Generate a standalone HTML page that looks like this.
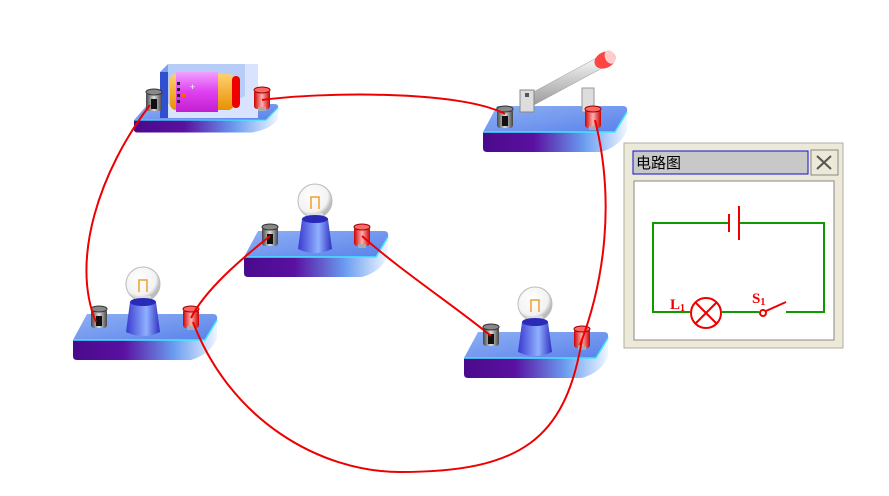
<!DOCTYPE html>
<html><head><meta charset="utf-8"><style>
html,body{margin:0;padding:0;background:#fff;}
svg{display:block;}
</style></head><body>
<svg width="889" height="496" viewBox="0 0 889 496" xmlns="http://www.w3.org/2000/svg">
<defs>
<linearGradient id="front" x1="0" x2="1" y1="0" y2="0">
<stop offset="0" stop-color="#4a0a8c"/><stop offset="0.35" stop-color="#5a10a0"/><stop offset="0.7" stop-color="#6a9cf0"/><stop offset="1" stop-color="#eef6ff"/></linearGradient>
<linearGradient id="top" x1="0" x2="1" y1="0" y2="1">
<stop offset="0" stop-color="#8eb0f4"/><stop offset="1" stop-color="#5a82ea"/></linearGradient>
<linearGradient id="sock" x1="0" x2="1"><stop offset="0" stop-color="#3a3ad0"/><stop offset="0.6" stop-color="#8fb0ff"/><stop offset="1" stop-color="#3030c0"/></linearGradient>
<linearGradient id="grayT" x1="0" x2="1"><stop offset="0" stop-color="#444"/><stop offset="0.5" stop-color="#ddd"/><stop offset="1" stop-color="#444"/></linearGradient>
<linearGradient id="redT" x1="0" x2="1"><stop offset="0" stop-color="#c00"/><stop offset="0.5" stop-color="#ffb0b0"/><stop offset="1" stop-color="#c00"/></linearGradient>
<radialGradient id="globe" cx="0.4" cy="0.35" r="0.6"><stop offset="0" stop-color="#fff"/><stop offset="0.8" stop-color="#f2f2f2"/><stop offset="1" stop-color="#bbb"/></radialGradient>
<linearGradient id="lever" x1="0" x2="0" y1="0" y2="1"><stop offset="0" stop-color="#fafafa"/><stop offset="1" stop-color="#999"/></linearGradient>
<linearGradient id="batt" x1="0" x2="0" y1="0" y2="1"><stop offset="0" stop-color="#f0a0ff"/><stop offset="0.5" stop-color="#e040f0"/><stop offset="1" stop-color="#c020d0"/></linearGradient>
<linearGradient id="orange" x1="0" x2="0" y1="0" y2="1"><stop offset="0" stop-color="#ffd070"/><stop offset="1" stop-color="#e89000"/></linearGradient>

<symbol id="base" overflow="visible">
<path d="M0,26 L14,0 L140,0 Q145,0 144,6 L132,26 Z" fill="url(#top)"/>
<path d="M0,26 L132,26 L144,6 L144,24 Q138,40 118,46 L4,46 Q0,46 0,42 Z" fill="url(#front)"/>
<path d="M0,26 L132,26 L144,6" fill="none" stroke="#40e8ff" stroke-width="1.5"/>
</symbol>
<symbol id="gt" overflow="visible">
<rect x="-8" y="-9" width="16" height="19" rx="3" fill="url(#grayT)"/>
<ellipse cx="0" cy="-9" rx="8" ry="3" fill="#888" stroke="#333"/>
<rect x="-3" y="-2" width="6" height="10" fill="#111"/>
</symbol>
<symbol id="rt" overflow="visible">
<rect x="-8" y="-9" width="16" height="19" rx="3" fill="url(#redT)"/>
<ellipse cx="0" cy="-9" rx="8" ry="3" fill="#f66" stroke="#900"/>
<rect x="-4" y="8" width="8" height="4" fill="#aaa"/>
</symbol>
<symbol id="lamp" overflow="visible">
<circle cx="0" cy="-18" r="17" fill="url(#globe)" stroke="#bbb"/>
<path d="M-4,-10 L-4,-22 L4,-22 L4,-10" fill="none" stroke="#f0a030" stroke-width="1.5"/>
<rect x="-8" y="-6" width="16" height="8" fill="#ddd"/>
<path d="M-13,0 L13,0 L17,30 Q0,38 -17,30 Z" fill="url(#sock)"/>
<ellipse cx="0" cy="0" rx="13" ry="4" fill="#2a2ab8"/>
</symbol>
</defs>

<!-- bases -->
<g transform="translate(134,104) scale(1,0.62)"><use href="#base" x="0" y="0"/></g>
<use href="#base" x="483" y="106"/>
<use href="#base" x="244" y="231"/>
<use href="#base" x="73" y="314"/>
<use href="#base" x="464" y="332"/>

<!-- battery -->
<path d="M160,72 L168,64 L168,118 L160,118 Z" fill="#7aa0f0"/>
<rect x="160" y="72" width="8" height="46" fill="#3050d0"/>
<path d="M168,64 L258,64 L258,118 L168,118 Z" fill="#d8e4ff"/>
<path d="M168,64 L245,64 L245,96 Q205,118 168,104 Z" fill="#b8ccf8"/>
<rect x="170" y="74" width="64" height="36" rx="6" fill="url(#orange)"/>
<rect x="176" y="72" width="42" height="40" fill="url(#batt)"/>
<rect x="232" y="76" width="8" height="32" rx="4" fill="#e00"/>
<text x="190" y="90" font-size="9" fill="#fff" font-family="Liberation Sans, sans-serif">+</text>
<g fill="#222"><rect x="177" y="82" width="3" height="3"/><rect x="177" y="88" width="3" height="3"/><rect x="177" y="94" width="3" height="3"/><rect x="182" y="94" width="3" height="3" fill="#f60"/><rect x="177" y="100" width="3" height="3"/></g>
<use href="#gt" x="154" y="101"/>
<use href="#rt" x="262" y="99"/>

<!-- switch -->
<path d="M526,96 L600,56 L606,66 L532,106 Z" fill="url(#lever)" stroke="#999" stroke-width="0.5"/>
<rect x="520" y="90" width="14" height="22" fill="#ddd" stroke="#888"/>
<rect x="525" y="93" width="4" height="4" fill="#555"/>
<rect x="582" y="88" width="12" height="24" fill="#ddd" stroke="#999"/>
<ellipse cx="605" cy="60" rx="11" ry="8" fill="#f44" transform="rotate(-25 605 60)"/>
<ellipse cx="610" cy="57" rx="5" ry="7" fill="#fcc" transform="rotate(-25 610 57)"/>
<use href="#gt" x="505" y="118"/>
<use href="#rt" x="593" y="118"/>

<!-- lamps -->
<use href="#lamp" x="315" y="219"/>
<use href="#gt" x="270" y="236"/>
<use href="#rt" x="362" y="236"/>
<use href="#lamp" x="143" y="302"/>
<use href="#gt" x="99" y="318"/>
<use href="#rt" x="191" y="318"/>
<use href="#lamp" x="535" y="322"/>
<use href="#gt" x="491" y="336"/>
<use href="#rt" x="582" y="338"/>

<!-- wires -->
<g fill="none" stroke="#e00" stroke-width="2">
<path d="M262,100 C320,92 460,90 505,114"/>
<path d="M150,105 C100,170 70,260 96,322"/>
<path d="M595,120 C615,200 605,280 580,345"/>
<path d="M270,236 C240,260 205,290 191,318"/>
<path d="M362,236 C400,270 460,310 491,336"/>
<path d="M193,322 C230,420 320,472 400,472 C520,472 565,440 582,340"/>
</g>

<!-- panel -->
<rect x="624" y="143" width="219" height="205" fill="#ece9d8" stroke="#b0aea0"/>
<rect x="633" y="151" width="175" height="23" fill="#c8c8c8" stroke="#1010d0"/>
<text x="636" y="168" font-size="15" fill="#000" font-family="Liberation Sans, 'Noto Sans CJK SC', sans-serif">电路图</text>
<rect x="811" y="150" width="27" height="25" fill="#ece9d8" stroke="#888"/>
<path d="M817,156 L831,169 M831,156 L817,169" stroke="#555" stroke-width="2"/>
<rect x="634" y="181" width="200" height="159" fill="#fff" stroke="#888"/>
<g fill="none" stroke="#190" stroke-width="2">
<path d="M729,223 L653,223 L653,312 L690,312"/>
<path d="M739,223 L824,223 L824,312 L786,312"/>
<path d="M722,312 L759,312"/>
</g>
<g stroke="#e00" stroke-width="2" fill="none">
<path d="M729,214 L729,232 M739,206 L739,240"/>
<circle cx="706" cy="313" r="15"/>
<path d="M695,302 L717,324 M717,302 L695,324"/>
<circle cx="763" cy="313" r="3" fill="#fff"/>
<path d="M766,311 L786,302"/>
</g>
<text x="670" y="309" font-size="15" font-weight="bold" fill="#e00" font-family="Liberation Serif, serif">L<tspan font-size="10" dy="2">1</tspan></text>
<text x="752" y="303" font-size="15" font-weight="bold" fill="#e00" font-family="Liberation Serif, serif">S<tspan font-size="10" dy="2">1</tspan></text>
</svg>
</body></html>
